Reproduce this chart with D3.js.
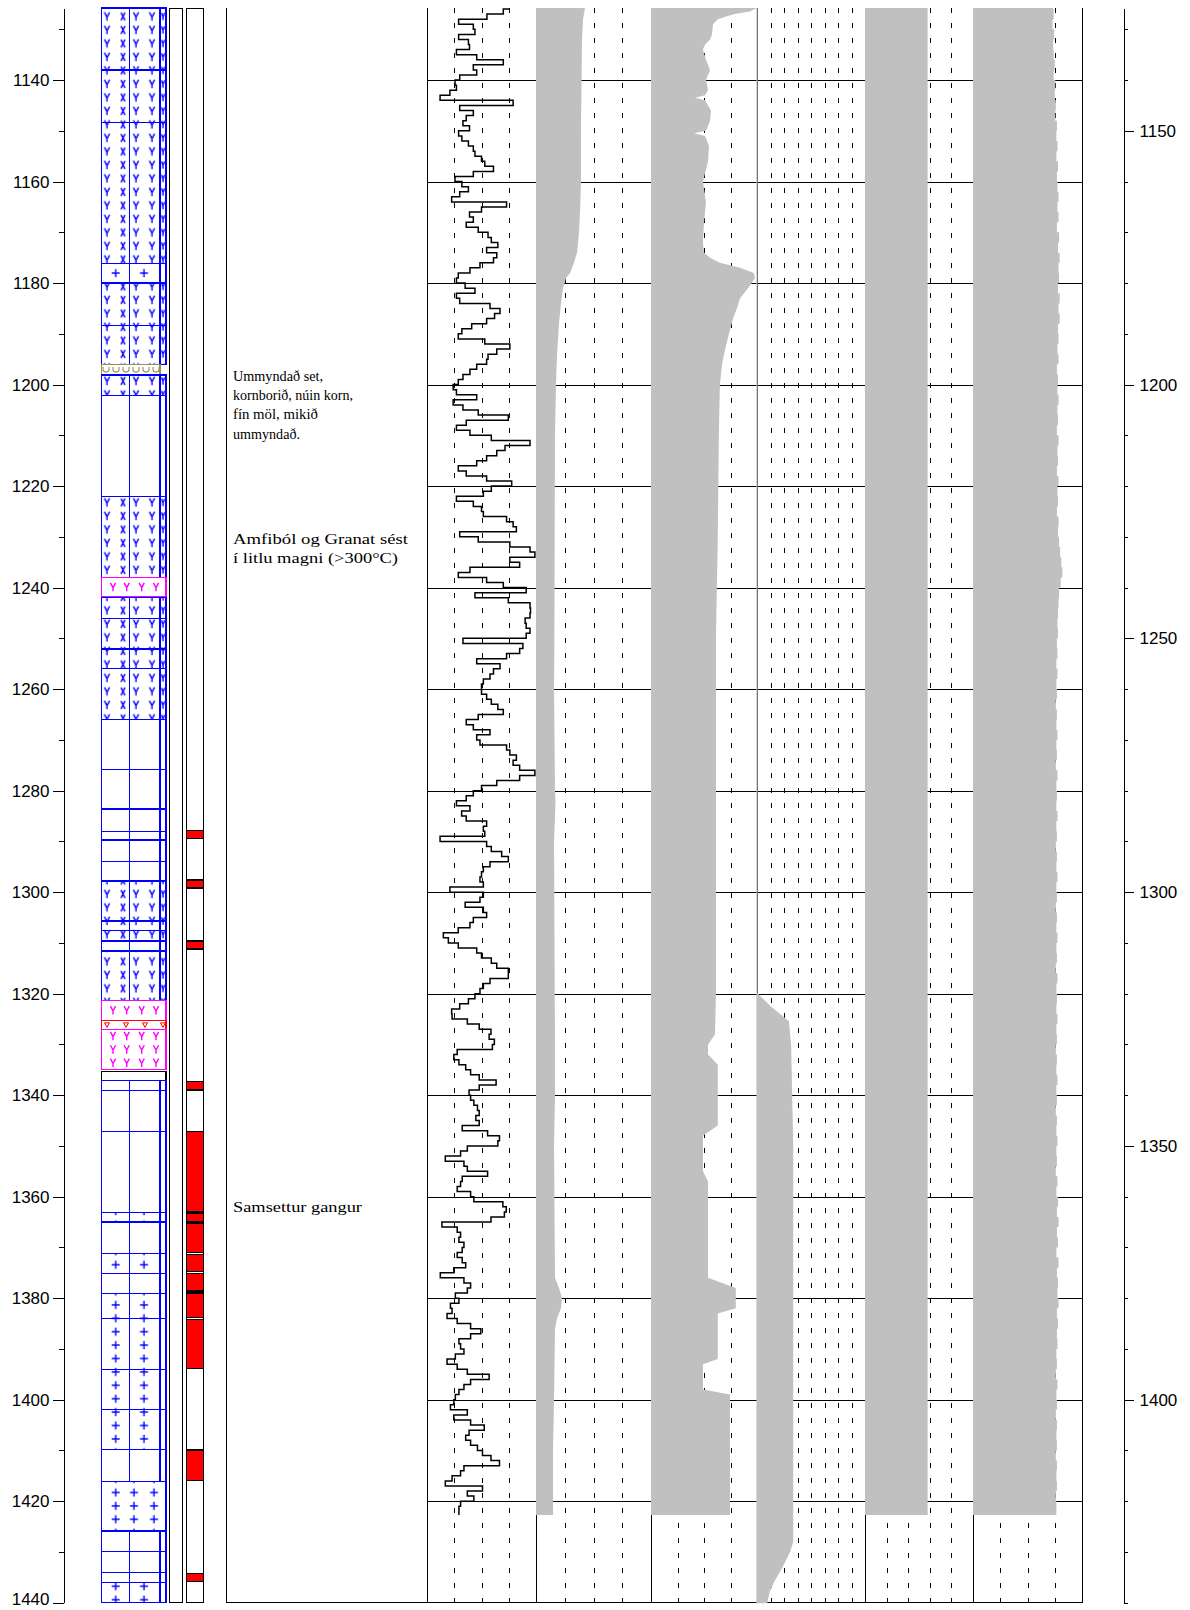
<!DOCTYPE html>
<html>
<head>
<meta charset="utf-8">
<script src="https://cdn.jsdelivr.net/npm/d3@7/dist/d3.min.js"></script>
<style>
html, body { margin: 0; padding: 0; background: #fff; }
svg { display: block; }
</style>
</head>
<body>
<svg id="log" width="1190" height="1610"></svg>
<script>
// ---------------- depth axes ----------------
const depthRange = [1125.8, 1440];
const leftMajorTicks = [1140, 1160, 1180, 1200, 1220, 1240, 1260, 1280, 1300, 1320, 1340, 1360, 1380, 1400, 1420, 1440];
const leftMinorTicks = [1130, 1150, 1170, 1190, 1210, 1230, 1250, 1270, 1290, 1310, 1330, 1350, 1370, 1390, 1410, 1430];
const rightMajorTicks = [1150, 1200, 1250, 1300, 1350, 1400];
const rightMinorTicks = [1130, 1140, 1160, 1170, 1180, 1190, 1210, 1220, 1230, 1240, 1260, 1270, 1280, 1290,
  1310, 1320, 1330, 1340, 1360, 1370, 1380, 1390, 1410, 1420, 1430, 1440];
const gridDepths = [1140, 1160, 1180, 1200, 1220, 1240, 1260, 1280, 1300, 1320, 1340, 1360, 1380, 1400, 1420];
const logEnd = 1422.7;

// ---------------- lithology column ----------------
// [top, bottom, rock type]
const lithology = [
  [1125.8, 1138.0, "basalt"], [1138.0, 1148.3, "basalt"], [1148.3, 1176.1, "basalt"],
  [1176.1, 1180.0, "intrusive"], [1180.0, 1188.3, "basalt"], [1188.3, 1196.1, "basalt"],
  [1196.1, 1198.0, "sediment"], [1198.1, 1202.1, "basalt"], [1202.1, 1222.0, "blank"],
  [1222.0, 1238.0, "basalt"], [1238.0, 1241.8, "altered"], [1242.0, 1246.1, "basalt"],
  [1246.1, 1252.1, "basalt"], [1252.1, 1255.9, "basalt"], [1255.9, 1266.0, "basalt"],
  [1266.0, 1275.9, "blank"], [1275.9, 1283.6, "blank"], [1283.6, 1288.1, "blank"],
  [1288.1, 1289.7, "blank"], [1289.7, 1293.9, "blank"], [1293.9, 1297.8, "blank"],
  [1297.8, 1305.7, "basalt"], [1305.7, 1307.6, "basalt"], [1307.6, 1309.6, "basalt"],
  [1309.6, 1311.6, "blank"], [1311.6, 1321.3, "basalt"], [1321.3, 1325.3, "altered"],
  [1325.3, 1327.0, "scoria"], [1327.0, 1335.0, "altered"], [1335.3, 1337.1, "nosample"],
  [1337.1, 1339.1, "blank"], [1339.1, 1347.2, "blank"], [1347.2, 1363.1, "blank"],
  [1363.1, 1365.0, "intrusive"], [1365.0, 1371.2, "blank"], [1371.2, 1375.1, "intrusive"],
  [1375.1, 1379.1, "blank"], [1379.1, 1384.0, "intrusive"], [1384.0, 1394.1, "intrusive"],
  [1394.1, 1401.9, "intrusive"], [1401.9, 1409.8, "intrusive"], [1409.8, 1416.1, "blank"],
  [1416.1, 1425.9, "coarse"], [1425.9, 1429.9, "blank"], [1429.9, 1434.1, "blank"],
  [1434.1, 1436.0, "blank"], [1436.0, 1440.0, "intrusive"]
];

// intrusions (red column)
const intrusions = [
  [1287.9, 1289.5], [1297.6, 1299.2], [1309.6, 1311.2], [1337.3, 1339.0], [1347.2, 1363.0],
  [1363.2, 1364.9], [1365.2, 1371.0], [1371.4, 1374.8], [1375.1, 1378.6], [1379.0, 1383.8],
  [1384.2, 1393.9], [1409.9, 1415.9], [1434.2, 1435.8]
];

// remarks column: first baseline depth, text lines and their set widths
const remarks = [
  { depth: 1199.3, lines: ["Ummyndað set,", "kornborið, núin korn,", "fín möl, mikið", "ummyndað."],
    widths: [90, 120, 85, 67] },
  { depth: 1231.4, lines: ["Amfiból og Granat sést", "í litlu magni (>300°C)"], widths: [175, 165] },
  { depth: 1363.1, lines: ["Samsettur gangur"], widths: [129] }
];

// ---------------- logs ----------------
// track 1: stepped curve, one reading per metre from 1126 m
const t1Start = 1126, t1Step = 1;
const t1Value = [
  75.5, 70, 55, 29, 42.5, 44, 29, 38, 39, 27,
  45.6, 70, 42.5, 45.6, 30, 25.7, 27, 21, 12, 79,
  30, 42.5, 36, 33, 39, 29, 32, 38, 42.5, 44,
  50, 53, 61, 42.5, 25.7, 32, 38, 30, 22.6, 73,
  50, 39, 42.5, 36, 47, 56, 59, 65, 54.7, 64,
  61, 48.6, 39.4, 28.7, 27, 35, 44, 27, 30, 57.8,
  67, 62, 54.7, 41, 32, 28.7, 53, 76, 64, 56,
  54.7, 45.6, 39.4, 33, 28.7, 24, 27, 45.6, 24, 33,
  47, 74.6, 36, 27, 39.4, 59, 94.5, 71.6, 64, 54.7,
  45.6, 28.7, 36, 54.7, 77.7, 59, 51.7, 27, 42.5, 50,
  51.7,
  73, 79, 82, 30, 47, 76, 94.5, 99, 76, 85,
  39.4, 28.7, 54.7, 70, 91, 44, 74.6, 94.5, 95, 94.5,
  90, 91, 94.5, 91, 33, 88, 85, 73, 45.6, 67,
  61, 57.8, 51.7, 50, 50, 54.7, 59, 65, 70, 47,
  36, 42.5, 57.8, 45.6, 48.6, 73, 76, 82, 79, 85,
  99, 85, 64, 50, 42.5, 36, 27, 39.4, 31.8, 36,
  54.7, 51.7, 53, 12, 54.7, 59, 68.5, 74.6, 57.8, 51.7,
  50, 48.6, 51.7, 21, 51.7, 48.6, 35, 51.7, 54.7, 42.5,
  39.4, 28.7, 15, 19.6, 28.7, 45.6, 50, 59, 64, 74.6,
  74.6, 57.8, 51.7, 48.6, 44, 38, 30, 22.6, 23, 37,
  47.9, 58.7, 57, 61.8, 60, 27.7, 24.6, 29.3, 35.5, 40,
  47.9, 63.4, 47.9, 38.6, 40, 43, 46.3, 47.9, 44.8, 47.9,
  32.3, 55.6, 66.5, 65, 37, 30.8, 16.8, 33.9, 37, 55.6,
  32.3, 30.8, 27.7, 40, 43, 69.6, 72.7, 71, 58.7, 13.7,
  27.7, 30.8, 29.3, 33.9, 32.3, 27.7, 32.3, 35.5, 24.6, 12.2,
  33.9, 40, 37, 26, 29.3, 21.5, 23, 18.4, 27.7, 40,
  49.4, 40, 29.3, 30.8, 33.9, 26, 18.4, 27.7, 37, 57,
  40, 33.9, 29.3, 26, 24.6, 21.5, 37, 24.6, 40, 52.5,
  38.6, 35.5, 40, 46.3, 50.9, 58.7, 66.5, 33.9, 30.8, 23,
  16.8, 50.9, 37, 43, 30.8, 29.3
];

// track 2: shaded log
const t2Depth = [1125.8, 1128, 1132, 1140, 1150, 1160, 1166, 1170, 1174, 1176, 1178, 1179, 1181, 1184, 1188,
  1194, 1200, 1210, 1250, 1260, 1280, 1282, 1290, 1330, 1340, 1350, 1376, 1378, 1380, 1382, 1384, 1386,
  1400, 1410, 1422.7];
const t2Value = [42.6, 40.9, 40, 39.6, 39.1, 39.1, 38.3, 37.4, 35.7, 33, 29.6, 26.1, 23.5, 21.7, 20,
  18.3, 17.4, 16.5, 16, 15.7, 16.5, 17, 15.7, 16.5, 16.5, 15.7, 16.5, 20, 22.6, 21.7, 18.3, 16.5,
  15.7, 14.8, 14.8];

// track 3: shaded log
const t3Depth = [1125.8, 1126.5, 1127, 1127.5, 1128, 1129, 1131, 1132, 1133, 1134, 1136, 1138, 1140, 1142, 1143,
  1143.5, 1144, 1146, 1148, 1150, 1150.5, 1151, 1153, 1156, 1160, 1164, 1168, 1172, 1174, 1175,
  1176, 1177, 1178, 1179, 1180, 1181, 1182, 1183, 1185, 1187, 1190, 1193, 1196, 1200, 1210,
  1230, 1250, 1320, 1328, 1330, 1332, 1334, 1346, 1348, 1355, 1357, 1376, 1378, 1382, 1383,
  1392, 1393, 1398, 1399, 1422.7];
const t3Value = [100, 93.4, 79, 70, 63, 58.5, 57.5, 55.7, 51, 49, 51.9, 55.7, 51.9, 53.8, 51,
  41.5, 51, 56.6, 55.7, 51.9, 40.6, 51, 54.7, 53.8, 49, 51.9, 50, 49, 50, 55.7,
  65, 84, 97, 98, 95, 91.5, 87.7, 84, 81, 77.4, 73.6, 70, 67, 65, 64,
  63, 61.3, 61.3, 60.4, 53.8, 53.8, 63, 63, 49, 49, 53.8, 53.8, 80, 80, 63,
  63, 49, 49, 74.5, 74.5];

// track 4: shaded log (casing)
const t4Depth = [1125.8, 1320, 1322.5, 1325.5, 1330, 1340, 1350, 1428, 1430, 1433, 1436, 1438, 1440];
const t4Value = [0, 0, 12, 29, 31, 32, 33, 33, 30, 23, 15, 11, 9];

// track 5: shaded log
const t5Depth = [1125.8, 1422.7];
const t5Value = [58, 58];

// track 6: shaded log, one reading every 2 m from 1126 m
const t6Start = 1126, t6Step = 2;
const t6Value = [
  73.5, 74, 73, 74.5, 73.5, 74, 75, 74, 75.5, 75,
  76, 75.5, 77, 76.5, 77.5, 76.5, 78, 77, 77.5, 78.5,
  77.5, 78.5, 77, 79, 78, 79.5, 78.5, 79, 78, 79.5,
  78.5, 79.5, 78, 78.5, 77.5, 78.5, 77, 78, 77.5, 78.5,
  77.5, 78, 77, 78.5, 77.5, 78, 77, 78.5, 77.5, 78,
  77, 78.5, 78, 79, 80, 81, 82, 80.5, 79, 78.5,
  78, 77.5, 78, 77, 77.5, 76.5, 77.5, 76.5, 77, 76,
  77, 76.5, 77.5, 76.5, 77, 76, 77.5, 76.5, 77, 76.5,
  77.5, 76.5, 77, 76, 77, 76.5, 77.5, 76.5, 77, 76,
  77, 76.5, 77.5, 76.5, 77, 76, 77.5, 76.5, 77, 76.5,
  77.5, 76.5, 77, 76, 77, 76.5, 77.5, 76.5, 77, 76,
  77, 76.5, 77.5, 76.5, 77, 76, 77.5, 76.5, 78, 77,
  78.5, 77, 78, 76.5, 78.5, 77, 78, 77.5, 78.5, 77,
  78, 77, 77.5, 76.5, 77, 76, 77.5, 76.5, 77, 76,
  77, 76.5, 77, 76, 77, 76.5, 77, 76, 76.5
];

// ---------------- layout ----------------
const svg = d3.select("#log");
const y = d3.scaleLinear().domain(depthRange).range([8, 1602.7]);
const yTop = y(depthRange[0]), yBot = y(depthRange[1]);
const px = v => Math.round(v) + 0.5;

const trackEdges = [427, 536, 651, 757, 865, 973, 1082];
const trackDivisions = [4, 4, 4, 8, 5, 4];
const tx = trackDivisions.map((n, i) =>
  d3.scaleLinear().domain([0, 100]).range([trackEdges[i], trackEdges[i + 1]]));

const litho = { x0: 101.7, x1: 166, d1: 129.3, d2: 160 };
const GRAY = "#c0c0c0";

// ---------------- patterns ----------------
const defs = svg.append("defs");
const symbolPaths = {
  Y: "M-2.6,-4.2 L0,0.6 L2.6,-4.2 M0,0.6 L0,4.2",
  y: "M-1.6,-3.6 L0,0.4 L1.6,-3.6 M0,0.4 L0,3.6",
  X: "M-2,-4 L2,4 M2,-4 L-2,4",
  P: "M-4,0 H4 M0,-4 V4"
};
function tilePattern(id, color, yPhase, period, items, width) {
  const p = defs.append("pattern").attr("id", id)
    .attr("patternUnits", "userSpaceOnUse")
    .attr("x", litho.x0).attr("y", yPhase)
    .attr("width", 90).attr("height", period);
  items.forEach(it => p.append("path")
    .attr("d", symbolPaths[it[1]])
    .attr("transform", `translate(${it[0]},${period / 2})`)
    .attr("fill", "none").attr("stroke", color).attr("stroke-width", width));
}
tilePattern("pat-basalt", "#0000ff", 131.25, 13.5,
  [[5.3, "Y"], [21.3, "X"], [34.3, "Y"], [50.3, "Y"], [61.3, "y"]], 1.4);
tilePattern("pat-plus2", "#0000ff", 1325, 13.4, [[14, "P"], [42.3, "P"]], 1.4);
tilePattern("pat-plus3", "#0000ff", 1325, 13.4, [[14, "P"], [32.3, "P"], [52.3, "P"]], 1.4);

// ---------------- lithology ----------------
const gL = svg.append("g").attr("shape-rendering", "crispEdges");
lithology.forEach(([d0, d1, kind]) => {
  const y0 = y(d0), y1 = y(d1);
  const g = gL.append("g");
  let stroke = "#0000ff", fill = "none", dividers = true, right = litho.x1;
  if (kind === "basalt") fill = "url(#pat-basalt)";
  if (kind === "intrusive") fill = "url(#pat-plus2)";
  if (kind === "coarse") { fill = "url(#pat-plus3)"; dividers = false; }
  if (kind === "altered") { stroke = "#ff00ff"; dividers = false; }
  if (kind === "scoria") { stroke = "#ff0000"; dividers = false; }
  if (kind === "sediment") { stroke = "#9a8f55"; dividers = false; right = litho.d2; }
  if (kind === "nosample") { stroke = "#000"; dividers = false; }
  g.append("rect").attr("x", litho.x0).attr("y", y0)
    .attr("width", right - litho.x0).attr("height", y1 - y0)
    .attr("fill", fill).attr("stroke", stroke).attr("stroke-width", 1.3);
  if (dividers) {
    [litho.d1, litho.d2].forEach(x => g.append("line")
      .attr("x1", x).attr("x2", x).attr("y1", y0).attr("y2", y1)
      .attr("stroke", stroke).attr("stroke-width", 1.3));
  }
  const ys = y0 + (y1 - y0) / 2;
  if (kind === "altered") {
    const n = Math.max(1, Math.floor((y1 - y0) / 13.4));
    const start = (y0 + y1) / 2 - (n - 1) * 13.4 / 2;
    d3.range(n).forEach(r => [113, 126.7, 141.7, 156].forEach(x =>
      g.append("path").attr("d", symbolPaths.Y)
        .attr("transform", `translate(${x},${start + r * 13.4})`)
        .attr("fill", "none").attr("stroke", "#ff00ff").attr("stroke-width", 1.4)
        .attr("shape-rendering", "auto")));
  }
  if (kind === "scoria") {
    [107, 126, 145, 163].forEach(x => g.append("path")
      .attr("d", "M-2.5,-2 L2.5,-2 L0,2.5 Z")
      .attr("transform", `translate(${x},${ys})`)
      .attr("fill", "none").attr("stroke", "#ff0000").attr("stroke-width", 1)
      .attr("shape-rendering", "auto"));
  }
  if (kind === "sediment") {
    [106, 116, 126, 136, 146, 156].forEach(x => g.append("path")
      .attr("d", "M-3,-2.5 V0 Q-3,2.5 0,2.5 Q3,2.5 3,0 V-2.5")
      .attr("transform", `translate(${x},${ys})`)
      .attr("fill", "none").attr("stroke", "#9a8f55").attr("stroke-width", 1.1)
      .attr("shape-rendering", "auto"));
  }
});

// thin empty column and intrusion column
const frames = svg.append("g").attr("shape-rendering", "crispEdges");
frames.append("rect").attr("x", px(169)).attr("y", yTop).attr("width", 13).attr("height", yBot - yTop)
  .attr("fill", "none").attr("stroke", "#000");
frames.append("rect").attr("x", px(186)).attr("y", yTop).attr("width", 17).attr("height", yBot - yTop)
  .attr("fill", "none").attr("stroke", "#000");
frames.selectAll("rect.intr").data(intrusions).join("rect").attr("class", "intr")
  .attr("x", px(186)).attr("width", 17)
  .attr("y", d => y(d[0])).attr("height", d => y(d[1]) - y(d[0]))
  .attr("fill", "#ff0000").attr("stroke", "#000").attr("stroke-width", 1.3);

// ---------------- remarks column ----------------
frames.append("line").attr("x1", px(226)).attr("x2", px(226)).attr("y1", yTop).attr("y2", yBot).attr("stroke", "#000");
frames.append("line").attr("x1", 226).attr("x2", trackEdges[6] + 0.5).attr("y1", px(yBot - 1)).attr("y2", px(yBot - 1)).attr("stroke", "#000");
const gT = svg.append("g").attr("font-family", '"Liberation Serif", "Times New Roman", serif')
  .attr("font-size", 15).attr("fill", "#000");
remarks.forEach(r => r.lines.forEach((t, i) =>
  gT.append("text").attr("x", 233).attr("y", y(r.depth) + i * 19.2)
    .attr("textLength", r.widths[i]).attr("lengthAdjust", "spacingAndGlyphs").text(t)));

// ---------------- track grid ----------------
const gG = svg.append("g").attr("shape-rendering", "crispEdges");
tx.forEach((sc, i) => {
  const n = trackDivisions[i];
  d3.range(1, n).forEach(k => gG.append("line")
    .attr("x1", px(sc(100 * k / n))).attr("x2", px(sc(100 * k / n)))
    .attr("y1", yTop).attr("y2", yBot)
    .attr("stroke", "#000").attr("stroke-dasharray", "5,10"));
});
gG.selectAll("line.h").data(gridDepths).join("line").attr("class", "h")
  .attr("x1", trackEdges[0]).attr("x2", trackEdges[6])
  .attr("y1", d => px(y(d))).attr("y2", d => px(y(d))).attr("stroke", "#000");
trackEdges.forEach(x => gG.append("line").attr("x1", px(x)).attr("x2", px(x))
  .attr("y1", yTop).attr("y2", yBot).attr("stroke", "#000"));

// ---------------- shaded logs ----------------
function shaded(i, depths, values, curve) {
  const pts = depths.map((d, k) => [d, values[k]]);
  const area = d3.area().curve(curve)
    .y(p => y(p[0])).x0(tx[i](0)).x1(p => tx[i](p[1]));
  return svg.append("path").datum(pts).attr("d", area).attr("fill", GRAY);
}
const seq = (start, step, vals) => vals.map((v, k) => start + k * step);
const t6Depth = seq(t6Start, t6Step, t6Value);
shaded(1, t2Depth, t2Value, d3.curveLinear);
shaded(2, t3Depth, t3Value, d3.curveLinear);
shaded(3, t4Depth, t4Value, d3.curveLinear).attr("stroke", GRAY).attr("stroke-width", 1.2);
shaded(4, t5Depth, t5Value, d3.curveLinear);
shaded(5, [depthRange[0], ...t6Depth, logEnd], [t6Value[0], ...t6Value, t6Value[t6Value.length - 1]], d3.curveStepAfter);

// ---------------- track 1 curve ----------------
const t1Depth = seq(t1Start, t1Step, t1Value);
const t1Pts = t1Depth.map((d, k) => [d, t1Value[k]]);
t1Pts.push([logEnd, t1Value[t1Value.length - 1]]);
svg.append("clipPath").attr("id", "clip-t1").append("rect")
  .attr("x", trackEdges[0]).attr("y", yTop).attr("width", trackEdges[1] - trackEdges[0]).attr("height", yBot - yTop);
svg.append("path").datum(t1Pts)
  .attr("clip-path", "url(#clip-t1)")
  .attr("d", d3.line().curve(d3.curveStepAfter).x(p => tx[0](p[1])).y(p => y(p[0])))
  .attr("fill", "none").attr("stroke", "#000").attr("stroke-width", 1.5);

// ---------------- axes ----------------
function styleAxis(g) {
  g.selectAll("text").attr("font-family", '"Liberation Sans", Arial, sans-serif')
    .attr("font-size", 17).attr("fill", "#000");
  // keep the bottom label inside the page
  g.selectAll("text").filter(d => d === depthRange[1]).attr("dy", "0.1em");
  g.selectAll("line, path").attr("stroke", "#000");
  g.attr("shape-rendering", "crispEdges");
}
svg.append("g").attr("transform", `translate(${px(63)},0)`)
  .call(d3.axisLeft(y).tickValues(leftMajorTicks).tickSize(11).tickSizeOuter(0).tickPadding(3).tickFormat(d3.format("d")))
  .call(styleAxis);
svg.append("g").attr("transform", `translate(${px(63)},0)`)
  .call(d3.axisLeft(y).tickValues(leftMinorTicks).tickSize(5).tickSizeOuter(0).tickFormat(""))
  .call(g => g.select(".domain").remove()).call(styleAxis);
svg.append("g").attr("transform", `translate(${px(1123)},0)`)
  .call(d3.axisRight(y).tickValues(rightMajorTicks).tickSize(10).tickSizeOuter(0).tickPadding(6).tickFormat(d3.format("d")))
  .call(styleAxis);
svg.append("g").attr("transform", `translate(${px(1123)},0)`)
  .call(d3.axisRight(y).tickValues(rightMinorTicks).tickSize(4).tickSizeOuter(0).tickFormat(""))
  .call(g => g.select(".domain").remove()).call(styleAxis);
</script>
</body>
</html>
